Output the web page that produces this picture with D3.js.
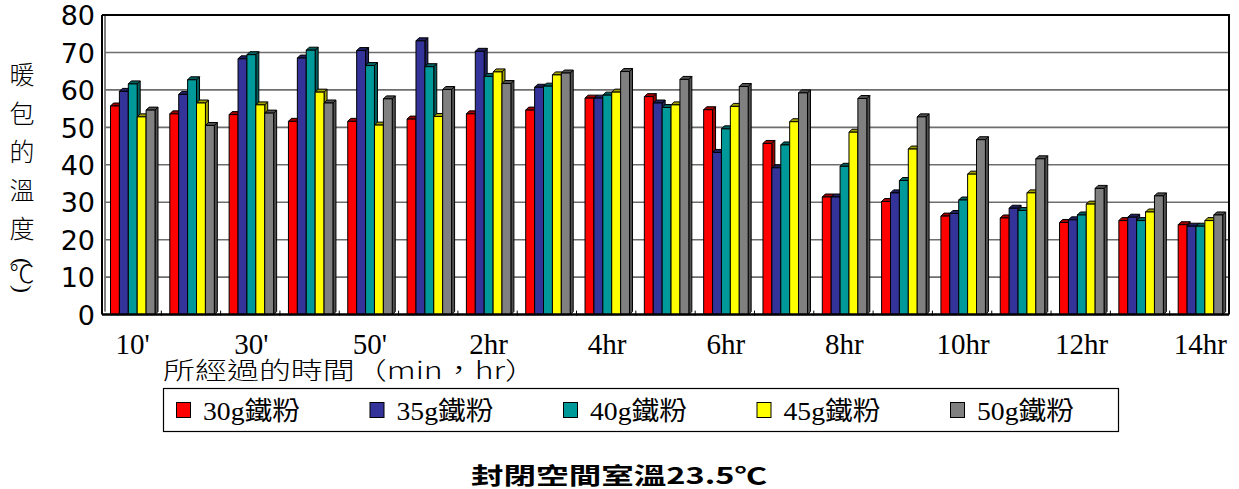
<!DOCTYPE html>
<html>
<head>
<meta charset="utf-8">
<script src="https://cdn.jsdelivr.net/npm/d3@7"></script>
<style>
  body { margin: 0; background: #fff; }
  svg { display: block; }
</style>
</head>
<body>
<svg id="chart" width="1239" height="489"></svg>
<script>
// Elapsed time after opening the hand warmer
const categories = ["10'", "20'", "30'", "40'", "50'", "1hr", "2hr", "3hr", "4hr", "5hr",
                    "6hr", "7hr", "8hr", "9hr", "10hr", "11hr", "12hr", "13hr", "14hr"];
// Only every other category is labelled on the axis
const tickLabels = ["10'", "30'", "50'", "2hr", "4hr", "6hr", "8hr", "10hr", "12hr", "14hr"];
const yTicks = [0, 10, 20, 30, 40, 50, 60, 70, 80];

const seriesNames = ["30g鐵粉", "35g鐵粉", "40g鐵粉", "45g鐵粉", "50g鐵粉"];
const seriesColors = ["#ff0000", "#333399", "#009999", "#ffff00", "#808080"];

// Warmer temperature (°C) for each iron powder amount
const iron30 = [55.7, 53.6, 53.4, 51.6, 51.6, 52.2, 53.6, 54.6, 57.8, 58.2, 54.7, 45.7, 31.4, 30.2, 26.3, 25.8, 24.6, 25.1, 24.0];
const iron35 = [59.6, 58.8, 68.3, 68.5, 70.5, 73.1, 70.3, 60.7, 57.8, 56.5, 43.3, 39.2, 31.4, 32.5, 27.0, 28.4, 25.3, 26.0, 23.6];
const iron40 = [61.6, 62.7, 69.4, 70.6, 66.5, 66.2, 63.6, 61.0, 58.6, 55.3, 49.6, 45.3, 39.6, 35.8, 30.6, 27.8, 26.6, 25.1, 23.6];
const iron45 = [52.8, 56.5, 56.0, 59.4, 50.6, 52.9, 64.8, 64.0, 59.4, 56.0, 55.6, 51.5, 48.7, 44.2, 37.5, 32.5, 29.5, 27.4, 25.1];
const iron50 = [54.6, 50.5, 53.8, 56.5, 57.6, 60.1, 61.7, 64.5, 64.9, 62.8, 60.9, 59.2, 57.7, 52.8, 46.7, 41.6, 33.7, 31.7, 26.6];

const seriesValues = [iron30, iron35, iron40, iron45, iron50];

const svg = d3.select("#chart");
const plot = { left: 102, right: 1229, top: 15, bottom: 314.6 };
const depth = 3;

const x = d3.scaleBand().domain(categories).range([plot.left, plot.right]).padding(0);
const xInner = d3.scaleBand().domain(seriesNames).range([8.5, 53]).padding(0);
const y = d3.scaleLinear().domain([0, 80]).range([plot.bottom, plot.top]);

// Back wall edge
svg.append("line")
  .attr("x1", plot.left + depth).attr("x2", plot.left + depth)
  .attr("y1", plot.top).attr("y2", plot.bottom - depth)
  .attr("stroke", "#000").attr("stroke-width", 1);

// Horizontal gridlines
svg.append("g")
  .selectAll("line")
  .data(yTicks.filter(t => t > 0 && t < 80))
  .join("line")
  .attr("x1", plot.left + depth).attr("x2", plot.right)
  .attr("y1", d => y(d)).attr("y2", d => y(d))
  .attr("stroke", "#6e6e6e").attr("stroke-width", 1.6);

// Frame: top and right
svg.append("path")
  .attr("d", `M${plot.left},${plot.top}H${plot.right}V${plot.bottom}`)
  .attr("fill", "none").attr("stroke", "#000").attr("stroke-width", 2);

// Y axis labels
const yAxis = d3.axisLeft(y).tickValues(yTicks).tickSize(0).tickPadding(6);
const gy = svg.append("g").attr("transform", `translate(${plot.left - 1},0)`).call(yAxis);
gy.select(".domain").remove();
gy.selectAll("text")
  .attr("font-family", "'DejaVu Sans', Verdana, sans-serif")
  .attr("font-size", 27)
  .attr("dy", "0.36em")
  .attr("fill", "#000");

// Bars with a shallow 3D look
const bars = svg.append("g");
categories.forEach((cat, ci) => {
  seriesNames.forEach((name, si) => {
    const v = seriesValues[si][ci];
    const x0 = x(cat) + xInner(name);
    const w = xInner.bandwidth();
    const yt = y(v);
    const yb = y(0);
    const dark = d3.color(seriesColors[si]).darker(1.3).formatHex();
    const g = bars.append("g").attr("stroke", "#000").attr("stroke-width", 1).attr("stroke-linejoin", "round");
    g.append("polygon")
      .attr("points", [[x0 + w, yt], [x0 + w + depth, yt - depth], [x0 + w + depth, yb - depth], [x0 + w, yb]].join(" "))
      .attr("fill", dark);
    g.append("polygon")
      .attr("points", [[x0, yt], [x0 + depth, yt - depth], [x0 + w + depth, yt - depth], [x0 + w, yt]].join(" "))
      .attr("fill", dark);
    g.append("rect")
      .attr("x", x0).attr("y", yt)
      .attr("width", w).attr("height", yb - yt)
      .attr("fill", seriesColors[si]);
  });
});

// Left axis line and baseline
svg.append("line")
  .attr("x1", plot.left).attr("x2", plot.left)
  .attr("y1", plot.top).attr("y2", plot.bottom)
  .attr("stroke", "#000").attr("stroke-width", 2);
svg.append("line")
  .attr("x1", plot.left).attr("x2", plot.right)
  .attr("y1", plot.bottom).attr("y2", plot.bottom)
  .attr("stroke", "#000").attr("stroke-width", 2.5);

// Category boundary ticks
svg.append("g")
  .selectAll("line")
  .data(categories.slice(1))
  .join("line")
  .attr("x1", d => x(d)).attr("x2", d => x(d))
  .attr("y1", plot.bottom - 4).attr("y2", plot.bottom + 1)
  .attr("stroke", "#000").attr("stroke-width", 1);

// X axis labels
svg.append("g")
  .selectAll("text")
  .data(tickLabels)
  .join("text")
  .attr("x", d => x(d) + x.bandwidth() / 2 + 1)
  .attr("y", 354)
  .attr("text-anchor", "middle")
  .attr("font-family", "'Liberation Serif', 'Times New Roman', serif")
  .attr("font-size", 29)
  .attr("fill", "#000")
  .text(d => d);

// X axis title
svg.append("text")
  .attr("x", 163).attr("y", 379)
  .attr("font-family", "'Noto Sans CJK TC', sans-serif")
  .attr("font-weight", 300)
  .attr("font-size", 24)
  .attr("textLength", 374).attr("lengthAdjust", "spacingAndGlyphs")
  .text("所經過的時間（min，hr）");

// Y axis title, stacked vertically
const yTitle = ["暖", "包", "的", "溫", "度"];
svg.append("g")
  .selectAll("text")
  .data(yTitle)
  .join("text")
  .attr("x", 22)
  .attr("y", (d, i) => 84 + i * 38.5)
  .attr("text-anchor", "middle")
  .attr("font-family", "'Noto Sans CJK TC', sans-serif")
  .attr("font-weight", 300)
  .attr("font-size", 25)
  .text(d => d);
const unit = svg.append("g")
  .attr("font-family", "'Liberation Serif', serif")
  .attr("text-anchor", "middle");
unit.append("text").attr("transform", "translate(23,262) rotate(90)").attr("dy", "0.35em").attr("font-size", 24).text("(");
unit.append("text").attr("x", 22).attr("y", 283).attr("font-family", "'Noto Sans CJK TC', sans-serif").attr("font-weight", 300).attr("font-size", 25).text("℃");
unit.append("text").attr("transform", "translate(23,289) rotate(90)").attr("dy", "0.35em").attr("font-size", 24).text(")");

// Legend
const legend = svg.append("g");
legend.append("rect")
  .attr("x", 163.5).attr("y", 388.5).attr("width", 955).attr("height", 43)
  .attr("fill", "#fff").attr("stroke", "#000").attr("stroke-width", 1.2);
const legendX = d3.scalePoint().domain(seriesNames).range([176, 950]);
const items = legend.selectAll("g.item").data(seriesNames).join("g")
  .attr("class", "item")
  .attr("transform", d => `translate(${legendX(d)},0)`);
items.append("rect")
  .attr("x", 0.5).attr("y", 402.5).attr("width", 14).attr("height", 15)
  .attr("fill", (d, i) => seriesColors[i]).attr("stroke", "#000").attr("stroke-width", 1);
items.append("text")
  .attr("x", 27).attr("y", 420)
  .attr("font-family", "'Liberation Serif', 'Noto Sans CJK TC', serif")
  .attr("font-size", 26)
  .attr("textLength", 97).attr("lengthAdjust", "spacingAndGlyphs")
  .text(d => d);

// Chart caption
svg.append("text")
  .attr("x", 619).attr("y", 484)
  .attr("text-anchor", "middle")
  .attr("font-family", "'Noto Sans CJK TC', 'Liberation Sans', sans-serif")
  .attr("font-weight", 700)
  .attr("font-size", 23)
  .attr("textLength", 296).attr("lengthAdjust", "spacingAndGlyphs")
  .text("封閉空間室溫23.5℃");
</script>
</body>
</html>
